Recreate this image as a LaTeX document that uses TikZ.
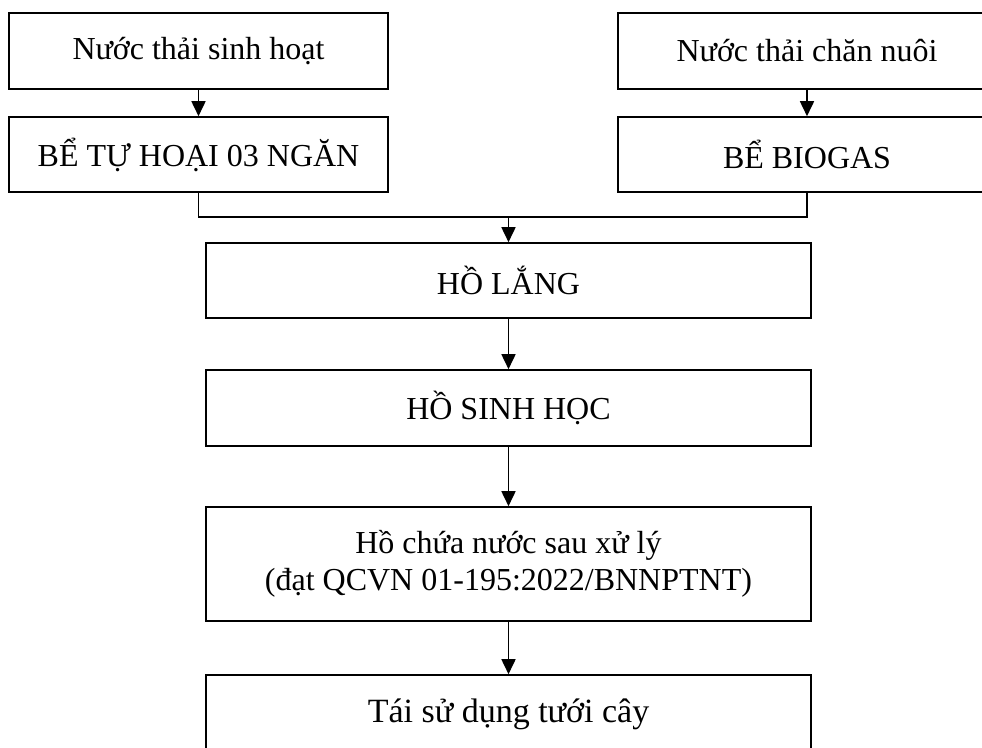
\documentclass[tikz,border=0pt]{standalone}
\usepackage{fontspec}
\setmainfont{Liberation Serif}
\usetikzlibrary{arrows.meta}
\begin{document}
\begin{tikzpicture}[x=1pt,y=-1pt,
  box/.style={draw=black, line width=1.6pt, fill=white, inner sep=0pt, align=center,
    font=\fontsize{32}{38}\selectfont},
  conn/.style={line width=1.7pt},
  arr/.style={line width=1.7pt, -{Triangle[length=15pt,width=14pt]}}]
\useasboundingbox (0,0) rectangle (982,747);
\clip (0,0) rectangle (982,747);
\fill[white] (0,0) rectangle (982,747);
\node[box, minimum width=379pt, minimum height=76pt] (a) at (198.5,51) {Nước thải sinh hoạt};
\node[box, minimum width=379pt, minimum height=75pt] (b) at (198.5,154.5) {BỂ TỰ HOẠI 03 NGĂN};
\node[box, minimum width=378pt, minimum height=76pt] (c) at (807,51) {Nước thải chăn nuôi};
\node[box, minimum width=378pt, minimum height=75pt] (d) at (807,154.5) {BỂ BIOGAS};
\node[box, minimum width=605pt, minimum height=75pt] (e) at (508.5,280.5) {HỒ LẮNG};
\node[box, minimum width=605pt, minimum height=76pt] (f) at (508.5,408) {HỒ SINH HỌC};
\node[box, minimum width=605pt, minimum height=114pt, font=\fontsize{32}{37}\selectfont] (g) at (508.5,564) {Hồ chứa nước sau xử lý\\(đạt QCVN 01-195:2022/BNNPTNT)};
\node[box, minimum width=605pt, minimum height=78pt, font=\fontsize{34}{40}\selectfont] (h) at (508.5,714) {Tái sử dụng tưới cây};
\coordinate (j) at (508.5,217);
\draw[arr] (a) -- (b);
\draw[arr] (c) -- (d);
\draw[conn] (b.south) |- (j) -| (d.south);
\draw[arr] (j) -- (e.north);
\draw[arr] (e) -- (f);
\draw[arr] (f) -- (g);
\draw[arr] (g) -- (h);
\end{tikzpicture}
\end{document}
